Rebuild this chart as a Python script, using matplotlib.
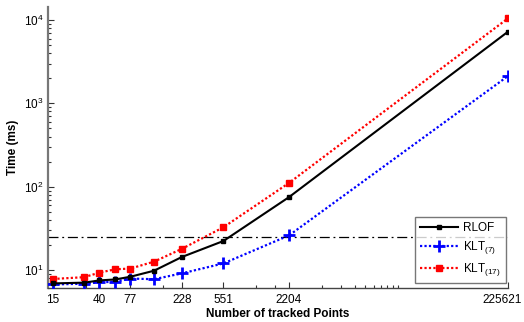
import matplotlib
matplotlib.use("Agg")
import matplotlib.pyplot as plt
from matplotlib.ticker import FixedLocator, NullFormatter, LogLocator
import matplotlib.transforms as mtransforms

plt.rcParams['font.family'] = ['Liberation Sans', 'DejaVu Sans']
plt.rcParams['mathtext.fontset'] = 'custom'
plt.rcParams['mathtext.rm'] = 'Liberation Sans'
plt.rcParams['mathtext.it'] = 'Liberation Sans'

# Data
points = [15, 29, 40, 56, 77, 127, 228, 551, 2204, 225621]
rlof = [6.9, 7.05, 7.5, 7.7, 8.3, 9.8, 14.3, 22.3, 75, 7260]
klt7 = [6.7, 6.85, 7.1, 7.25, 7.9, 7.75, 9.1, 12.0, 26, 2130]
klt17 = [7.8, 8.2, 9.3, 10.2, 10.4, 12.6, 17.9, 32.6, 111, 10500]
threshold = 25
xtick_major = [15, 40, 77, 228, 551, 2204, 225621]
xtick_minor = [30, 154, 1102, 1653] + [2204 * k for k in range(2, 11)]
ytick_labels = ['$10^{1}$', '$10^{2}$', '$10^{3}$', '$10^{4}$']

fig = plt.figure(figsize=(5.24, 3.22), dpi=100)
ax = fig.add_axes([48/524, 34/322, 460/524, 281/322])

ax.set_xscale('log')
ax.set_yscale('log')

ax.axhline(threshold, color='black', lw=0.9, ls=(0, (8, 3, 1.5, 3)), zorder=1)

ax.plot(points, rlof, color='black', ls='-', lw=1.5, marker='s', ms=3.5,
        label='RLOF', zorder=4)
ax.plot(points, klt7, color='blue', ls=(0, (1, 1)), lw=1.6, marker='+', ms=9,
        mew=2, label='KLT$_{(7)}$', zorder=3)
ax.plot(points, klt17, color='red', ls=(0, (1, 1)), lw=1.6, marker='s', ms=4.5,
        label='KLT$_{(17)}$', zorder=3)

ax.set_xlim(13.5, 225621)
ax.set_ylim(6.08, 14360)

ax.xaxis.set_major_locator(FixedLocator(xtick_major))
ax.set_xticklabels([str(v) for v in xtick_major])
ax.xaxis.set_minor_locator(FixedLocator(xtick_minor))
ax.xaxis.set_minor_formatter(NullFormatter())

ax.yaxis.set_major_locator(FixedLocator([10, 100, 1000, 10000]))
ax.set_yticklabels(ytick_labels)
ax.yaxis.set_minor_locator(LogLocator(base=10, subs=range(2, 10)))
ax.yaxis.set_minor_formatter(NullFormatter())

ax.tick_params(which='major', direction='in', length=4, width=0.8, labelsize=8.5,
               colors='#333333', labelcolor='black')
ax.tick_params(which='minor', direction='in', length=2, width=0.8, colors='#333333')
ax.tick_params(axis='x', pad=4)

# shift the last x tick label slightly left so it stays in the figure
last = ax.get_xticklabels()[-1]
last.set_transform(last.get_transform() +
                   mtransforms.ScaledTranslation(-6/100, 0, fig.dpi_scale_trans))

for s in ['top', 'right']:
    ax.spines[s].set_visible(False)
ax.spines['left'].set_color('#777777')
ax.spines['left'].set_linewidth(1.6)
ax.spines['bottom'].set_color('#444444')
ax.spines['bottom'].set_linewidth(1.0)

ax.set_xlabel('Number of tracked Points', fontsize=8.5, fontweight='bold', labelpad=2)
ax.set_ylabel('Time (ms)', fontsize=8.5, fontweight='bold', labelpad=3)

leg = ax.legend(loc='lower right', bbox_to_anchor=(458/460, 5/281), fontsize=8.5,
                borderaxespad=0, frameon=True, fancybox=False, handlelength=3.2,
                borderpad=0.4, labelspacing=0.45, handletextpad=0.5)
leg.get_frame().set_edgecolor('#555555')
leg.get_frame().set_linewidth(1.0)

fig.savefig('out.png', dpi=100)
